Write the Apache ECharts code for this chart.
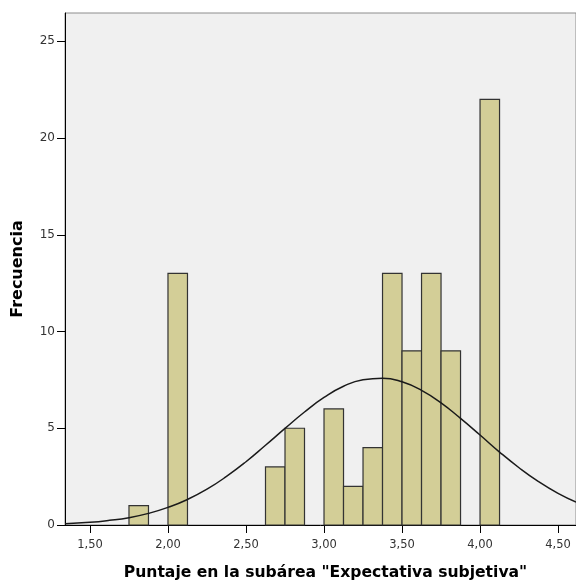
<!DOCTYPE html>
<html>
<head>
<meta charset="utf-8">
<script src="https://cdn.jsdelivr.net/npm/echarts@6/dist/echarts.min.js"></script>
<style>
html, body { margin: 0; padding: 0; background: #fff; }
#chart { width: 576px; height: 586px; }
</style>
</head>
<body>
<div id="chart"></div>
<script>
/* histograma con curva normal */
var binStart = [1.75, 2.0, 2.625, 2.75, 3.0, 3.125, 3.25, 3.375, 3.5, 3.625, 3.75, 4.0];
var binCount = [1, 13, 3, 5, 6, 2, 4, 13, 9, 13, 9, 22];
var binWidth = 0.125;

// curva normal
var curveX = [1.34, 1.5, 1.625, 1.75, 1.875, 2.0, 2.125, 2.25, 2.375, 2.5, 2.625, 2.75, 2.875,
	3.0, 3.125, 3.25, 3.375, 3.5, 3.625, 3.75, 3.875, 4.0, 4.125, 4.25, 4.375, 4.5, 4.615];
var curveY = [0.07, 0.14, 0.24, 0.38, 0.6, 0.91, 1.32, 1.85, 2.51, 3.27, 4.12, 4.99, 5.84,
	6.59, 7.17, 7.51, 7.59, 7.4, 6.96, 6.31, 5.51, 4.65, 3.77, 2.96, 2.24, 1.63, 1.18];

var xTicks = [1.5, 2.0, 2.5, 3.0, 3.5, 4.0, 4.5];

var bars = [];
for (var i = 0; i < binStart.length; i++) {
	bars.push([binStart[i], binStart[i] + binWidth, binCount[i]]);
}
var curve = [];
for (var j = 0; j < curveX.length; j++) {
	curve.push([curveX[j], curveY[j]]);
}

var chart = echarts.init(document.getElementById("chart"));
chart.setOption({
	backgroundColor : '#ffffff',
	animation : false,
	grid : {
		left : 65,
		right : 0,
		top : 13,
		bottom : 61,
		show : true,
		backgroundColor : '#f0f0f0',
		borderColor : '#8c8c8c',
		borderWidth : 1
	},
	xAxis : {
		type : 'value',
		min : 1.34,
		max : 4.615,
		name : 'Puntaje en la subárea "Expectativa subjetiva"',
		nameLocation : 'middle',
		nameGap : 40,
		nameTextStyle : {
			fontFamily : 'DejaVu Sans',
			fontWeight : 'bold',
			fontSize : 15.6,
			color : '#000',
			padding : [0, 0, 0, 10]
		},
		axisLine : { lineStyle : { color : '#000', width : 1 } },
		axisTick : {
			show : true,
			length : 8,
			customValues : xTicks,
			lineStyle : { color : '#000' }
		},
		axisLabel : {
			customValues : xTicks,
			fontFamily : 'DejaVu Sans',
			fontSize : 11.5,
			color : '#333',
			margin : 14,
			formatter : function(v) {
				return v.toFixed(2).replace('.', ',');
			}
		},
		splitLine : { show : false }
	},
	yAxis : {
		type : 'value',
		min : 0,
		max : 26.46,
		interval : 5,
		name : 'Frecuencia',
		nameLocation : 'middle',
		nameGap : 39,
		nameTextStyle : {
			fontFamily : 'DejaVu Sans',
			fontWeight : 'bold',
			fontSize : 16,
			color : '#000'
		},
		axisLine : { show : true, lineStyle : { color : '#000', width : 1 } },
		axisTick : { show : true, length : 8, lineStyle : { color : '#000' } },
		axisLabel : {
			fontFamily : 'DejaVu Sans',
			fontSize : 12,
			color : '#333',
			margin : 10,
			showMaxLabel : false
		},
		splitLine : { show : false }
	},
	series : [ {
		type : 'custom',
		data : bars,
		renderItem : function(params, api) {
			var p0 = api.coord([api.value(0), 0]);
			var p1 = api.coord([api.value(1), api.value(2)]);
			return {
				type : 'rect',
				shape : {
					x : p0[0],
					y : p1[1],
					width : p1[0] - p0[0],
					height : p0[1] - p1[1]
				},
				style : {
					fill : '#d3ce97',
					stroke : '#333333',
					lineWidth : 1.2
				}
			};
		}
	}, {
		type : 'line',
		data : curve,
		smooth : true,
		symbol : 'none',
		lineStyle : { color : '#1a1a1a', width : 1.5 },
		z : 5
	} ]
});
</script>
</body>
</html>
